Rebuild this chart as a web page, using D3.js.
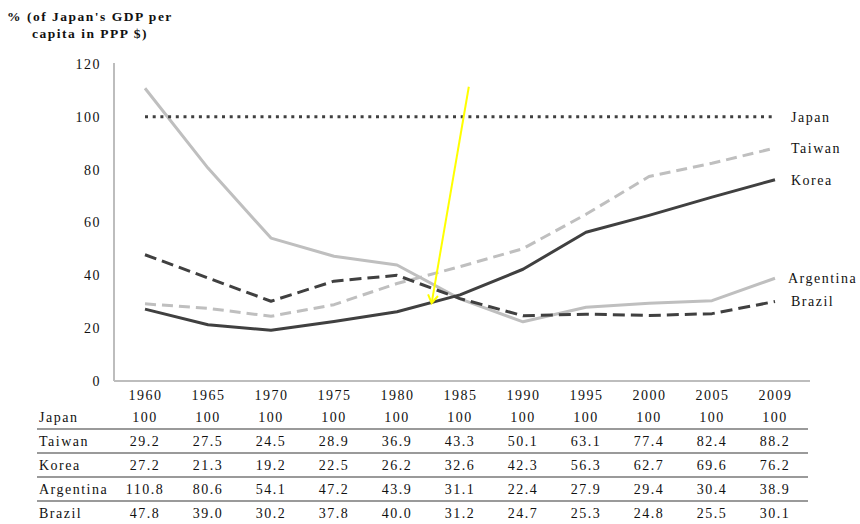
<!DOCTYPE html>
<html><head><meta charset="utf-8">
<script src="https://cdn.jsdelivr.net/npm/d3@7"></script>
<style>
html,body{margin:0;padding:0;background:#fff;}
svg text{font-family:"Liberation Serif","Times New Roman",serif;font-size:14px;letter-spacing:1.5px;fill:#111;}
</style></head><body>
<svg id="chart" width="860" height="524"></svg>
<script>
// ---- data ----
const years = ["1960","1965","1970","1975","1980","1985","1990","1995","2000","2005","2009"];
const japan = [100,100,100,100,100,100,100,100,100,100,100];
const taiwan = [29.2,27.5,24.5,28.9,36.9,43.3,50.1,63.1,77.4,82.4,88.2];
const korea = [27.2,21.3,19.2,22.5,26.2,32.6,42.3,56.3,62.7,69.6,76.2];
const argentina = [110.8,80.6,54.1,47.2,43.9,31.1,22.4,27.9,29.4,30.4,38.9];
const brazil = [47.8,39.0,30.2,37.8,40.0,31.2,24.7,25.3,24.8,25.5,30.1];
const seriesNames = ["Japan","Taiwan","Korea","Argentina","Brazil"];
const yTicks = [0,20,40,60,80,100,120];
const yTitle = ["% (of Japan's GDP per","capita in PPP $)"];
// annotation arrow in data units: [category index, value]
const arrowFrom = [5.14, 111.4];
const arrowTo = [4.55, 29.5];

const seriesValues = {Japan: japan, Taiwan: taiwan, Korea: korea, Argentina: argentina, Brazil: brazil};

// ---- styles ----
const styles = {
  Japan:     {color:"#404040", dash:"3,4.7", width:3},
  Taiwan:    {color:"#bfbfbf", dash:"11,6", width:3},
  Korea:     {color:"#404040", dash:null, width:3},
  Argentina: {color:"#bfbfbf", dash:null, width:3},
  Brazil:    {color:"#404040", dash:"12,6", width:3}
};
const drawOrder = ["Argentina","Taiwan","Brazil","Korea","Japan"];

const svg = d3.select("#chart");
svg.append("rect").attr("width",860).attr("height",524).attr("fill","#fff");

const x = d3.scalePoint().domain(years).range([145, 775]);
const xi = d3.scaleLinear().domain([0, years.length-1]).range([145, 775]);
const y = d3.scaleLinear().domain([0,120]).range([381, 64]);
const axisLeftX = 114, axisRightX = 810;

// y axis
const gy = svg.append("g").attr("transform",`translate(${axisLeftX},0)`)
  .call(d3.axisLeft(y).tickValues(yTicks).tickSize(0).tickPadding(13).tickFormat(d3.format("d")));
gy.select(".domain").remove();
gy.selectAll("text").attr("font-family",null).attr("font-size",null).attr("fill","#111");
svg.append("line").attr("x1",axisLeftX).attr("x2",axisLeftX).attr("y1",y(120)-1).attr("y2",y(0))
  .attr("stroke","#bdbdbd").attr("stroke-width",2);

// x axis
const gx = svg.append("g").attr("transform",`translate(0,${y(0)})`)
  .call(d3.axisBottom(x).tickSize(0).tickPadding(9));
gx.select(".domain").remove();
gx.selectAll("text").attr("font-family",null).attr("font-size",null).attr("fill","#111");
svg.append("line").attr("x1",axisLeftX).attr("x2",axisRightX).attr("y1",y(0)).attr("y2",y(0))
  .attr("stroke","#bdbdbd").attr("stroke-width",2);

// y title
svg.append("text").attr("x",90).attr("y",21).attr("text-anchor","middle").attr("font-weight","bold").style("font-size","13.5px").text(yTitle[0]);
svg.append("text").attr("x",90).attr("y",38).attr("text-anchor","middle").attr("font-weight","bold").style("font-size","13.5px").text(yTitle[1]);

// lines
const line = d3.line().x((d,i)=>x(years[i])).y(d=>y(d));
drawOrder.forEach(name=>{
  const s = styles[name];
  svg.append("path").datum(seriesValues[name])
    .attr("d", line).attr("fill","none")
    .attr("stroke", s.color).attr("stroke-width", s.width)
    .attr("stroke-dasharray", s.dash)
    .attr("stroke-linejoin","round");
});

// end labels
seriesNames.forEach(name=>{
  const v = seriesValues[name];
  svg.append("text").attr("x", x(years[years.length-1]) + (name==="Argentina"?13:16))
    .attr("y", y(v[v.length-1])).attr("dy","0.35em").text(name);
});

// table
const rowY = d3.scaleLinear().domain([0,1]).range([417, 441]);
seriesNames.forEach((name,r)=>{
  const fmt = name==="Japan" ? d3.format("d") : d3.format(".1f");
  svg.append("text").attr("x",39).attr("y",rowY(r)).attr("dy","0.35em").text(name);
  svg.append("g").selectAll("text").data(seriesValues[name]).join("text")
    .attr("x",(d,i)=>x(years[i])).attr("y",rowY(r)).attr("dy","0.35em")
    .attr("text-anchor","middle").text(d=>fmt(d));
  if (r>0) {
    svg.append("line").attr("x1",37).attr("x2",808)
      .attr("y1",rowY(r-0.5)).attr("y2",rowY(r-0.5))
      .attr("stroke","#9a9a9a").attr("stroke-width",2);
  }
});

// yellow arrow annotation
const defs = svg.append("defs");
defs.append("marker").attr("id","arrowhead").attr("markerUnits","userSpaceOnUse")
  .attr("viewBox","-10 -6 12 12").attr("refX",0).attr("refY",0)
  .attr("markerWidth",12).attr("markerHeight",12).attr("orient","auto")
  .append("path").attr("d","M-8,-5 L0,0 L-8,5").attr("fill","none")
  .attr("stroke","#ffff00").attr("stroke-width",2);
svg.append("line")
  .attr("x1", xi(arrowFrom[0])).attr("y1", y(arrowFrom[1]))
  .attr("x2", xi(arrowTo[0])).attr("y2", y(arrowTo[1]))
  .attr("stroke","#ffff00").attr("stroke-width",2)
  .attr("marker-end","url(#arrowhead)");
</script>
</body></html>
